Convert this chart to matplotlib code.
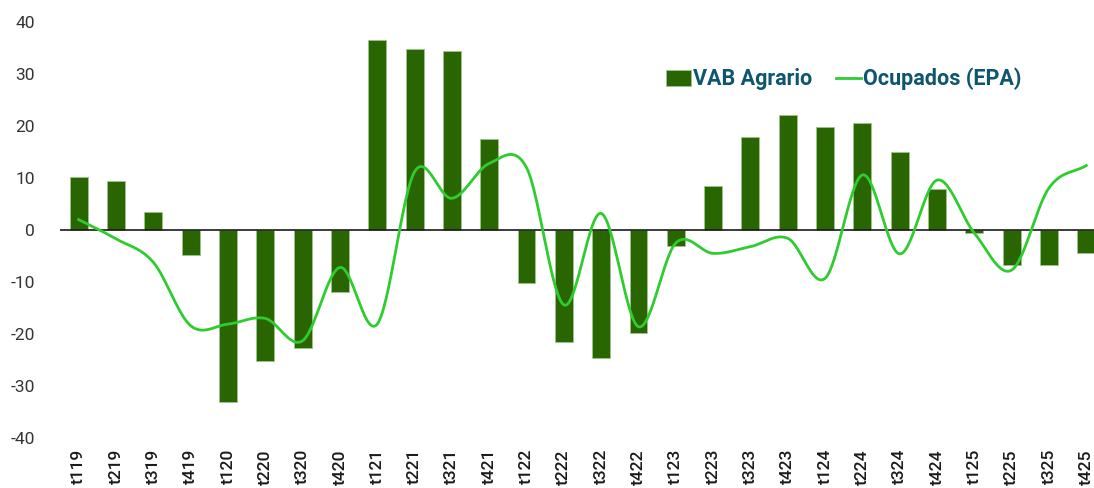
import matplotlib
matplotlib.use("Agg")
import matplotlib.pyplot as plt
import numpy as np

#------------------------------------
periods = ['t119', 't219', 't319', 't419', 't120', 't220', 't320', 't420',
           't121', 't221', 't321', 't421', 't122', 't222', 't322', 't422',
           't123', 't223', 't323', 't423', 't124', 't224', 't324', 't424',
           't125', 't225', 't325', 't425']
vab_agrario = [10.2, 9.4, 3.5, -4.8, -33.0, -25.2, -22.7, -11.9,
               36.5, 34.8, 34.4, 17.5, -10.2, -21.5, -24.6, -19.8,
               -3.1, 8.5, 17.9, 22.1, 19.8, 20.6, 15.0, 7.9,
               -0.6, -6.7, -6.7, -4.4]
ocupados_epa = [2.0, -1.7, -6.2, -18.4, -18.1, -17.0, -21.3, -7.2,
                -18.1, 11.2, 6.1, 12.8, 12.0, -14.4, 3.2, -18.6,
                -2.5, -4.5, -3.2, -1.6, -9.3, 10.6, -4.6, 9.6,
                -0.6, -7.7, 8.1, 12.4]
yticks = [-40, -30, -20, -10, 0, 10, 20, 30, 40]
#------------------------------------

bar_color = '#296500'
line_color = '#2fcc2f'
legend_color = '#0e5570'

plt.rcParams['font.family'] = ['Roboto', 'DejaVu Sans']


def smooth(y, steps=30):
    # Catmull-Rom style smoothing, like a spreadsheet "smoothed line"
    y = np.asarray(y, dtype=float)
    x = np.arange(len(y), dtype=float)
    p = np.concatenate([[2 * y[0] - y[1]], y, [2 * y[-1] - y[-2]]])
    xs, ys = [], []
    for i in range(len(y) - 1):
        p0, p1, p2, p3 = p[i], p[i + 1], p[i + 2], p[i + 3]
        t = np.linspace(0, 1, steps, endpoint=False)
        v = 0.5 * ((2 * p1) + (-p0 + p2) * t + (2 * p0 - 5 * p1 + 4 * p2 - p3) * t ** 2
                   + (-p0 + 3 * p1 - 3 * p2 + p3) * t ** 3)
        xs.append(x[i] + t)
        ys.append(v)
    xs.append([x[-1]])
    ys.append([y[-1]])
    return np.concatenate(xs), np.concatenate(ys)


fig = plt.figure(figsize=(10.94, 4.88), dpi=100)
ax = fig.add_axes([60 / 1094, 50 / 488, 1045 / 1094, 416 / 488])

pos = np.arange(len(periods))
bars = ax.bar(pos, vab_agrario, width=0.48, color=bar_color, edgecolor='#9ec48a',
              linewidth=0.6, label='VAB Agrario', zorder=2)
sx, sy = smooth(ocupados_epa)
line, = ax.plot(sx, sy, color=line_color, linewidth=2.0, label='Ocupados (EPA)', zorder=3)
ax.axhline(0, color='#1a1a1a', linewidth=1.2, zorder=2.5)

ax.set_xlim(-0.5, len(periods) - 0.5)
ax.set_ylim(-40, 40)
ax.set_yticks(yticks)
ax.set_yticklabels([str(v) for v in yticks], fontsize=12.5, color='#333333')
ax.set_xticks(pos)
ax.set_xticklabels(periods, rotation=90, fontsize=12.5, fontweight='medium',
                   color='#1a1a1a', va='top')
ax.tick_params(axis='y', length=0, pad=18)
ax.tick_params(axis='x', length=0, pad=8)
for s in ax.spines.values():
    s.set_visible(False)

leg = ax.legend(handles=[bars, line], loc='center left',
                bbox_to_anchor=(0.58, 0.863), ncol=2, borderaxespad=0,
                borderpad=0, frameon=False, fontsize=15.5, handlelength=1.15,
                handletextpad=0.1, columnspacing=1.1, handleheight=0.75)
for t in leg.get_texts():
    t.set_color(legend_color)
    t.set_fontweight('semibold')

fig.savefig('out.png', dpi=100)
